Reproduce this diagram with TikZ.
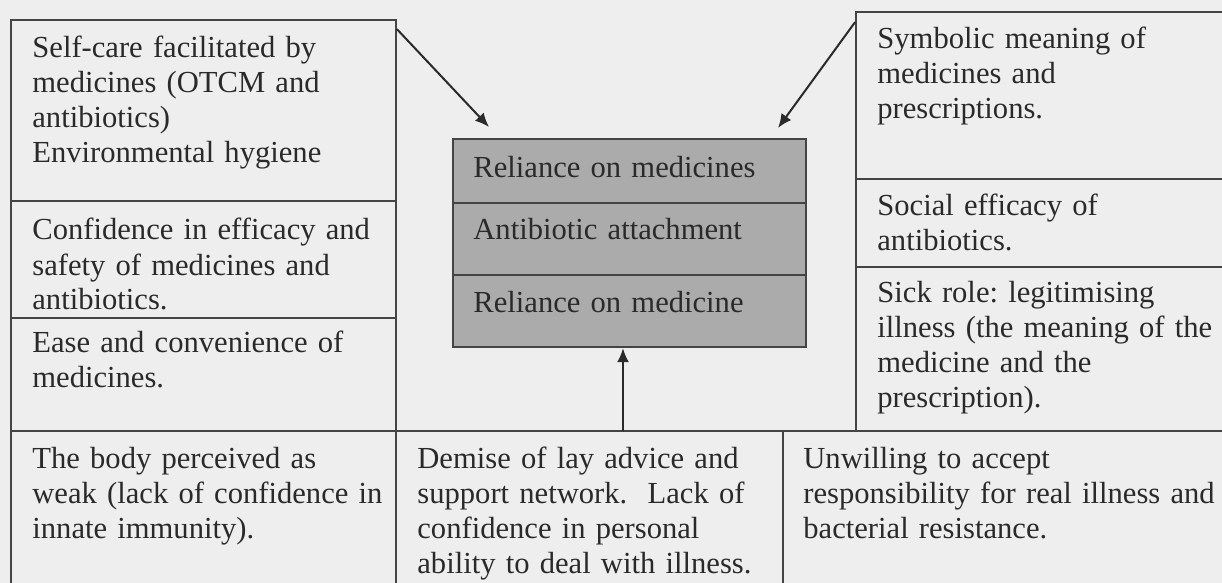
\documentclass[tikz,border=0pt]{standalone}
\usepackage{fontspec}
\setmainfont{Liberation Serif}
\usetikzlibrary{arrows.meta,fit}
\definecolor{bg}{HTML}{EEEEEE}
\definecolor{ink}{HTML}{2A2A2A}
\definecolor{edge}{HTML}{444444}
\definecolor{core}{HTML}{ABABAB}
\begin{document}
\frenchspacing
\begin{tikzpicture}[x=0.5pt,y=-0.5pt,
  box/.style={draw=edge, line width=0.9pt, inner sep=0pt},
  corebox/.style={draw=edge, line width=1.2pt, fill=core, inner sep=0pt},
  txt/.style={anchor=base west, text=ink, inner sep=0pt, text width=250pt, align=left,
              font=\fontsize{15.3}{17.5}\selectfont},
  arr/.style={draw=ink, line width=1pt, -{Latex[length=7pt,width=6pt]}}
]
\fill[bg] (0,0) rectangle (1222,583);
\clip (0,0) rectangle (1222,583);
% left column
\node[box, fit={(11,20) (396,201)}] (tl1) {};
\node[box, fit={(11,201) (396,318)}] (tl2) {};
\node[box, fit={(11,318) (396,431)}] (tl3) {};
% bottom row
\node[box, fit={(11,431) (396,600)}] (bl) {};
\node[box, fit={(396,431) (783,600)}] (bm) {};
\node[box, fit={(783,431) (1240,600)}] (br) {};
% right column
\node[box, fit={(856,12) (1240,179)}] (tr1) {};
\node[box, fit={(856,179) (1240,267)}] (tr2) {};
\node[box, fit={(856,267) (1240,431)}] (tr3) {};
% core
\node[corebox, fit={(453,139) (806,203)}] (c1) {};
\node[corebox, fit={(453,203) (806,275)}] (c2) {};
\node[corebox, fit={(453,275) (806,347)}] (c3) {};
% texts
\node[txt] (t1) at (32,58) {Self-care facilitated by\\medicines (OTCM and\\antibiotics)\\Environmental hygiene};
\node[txt] (t2) at (32,240) {Confidence in efficacy and\\safety of medicines and\\antibiotics.};
\node[txt] (t3) at (32,352) {Ease and convenience of\\medicines.};
\node[txt] (t4) at (32,468) {The body perceived as\\weak (lack of confidence in\\innate immunity).};
\node[txt] (t5) at (417,468) {Demise of lay advice and\\support network.\ \ Lack of\\confidence in personal\\ability to deal with illness.};
\node[txt] (t6) at (803,468) {Unwilling to accept\\responsibility for real illness and\\bacterial resistance.};
\node[txt] (t7) at (877,49) {Symbolic meaning of\\medicines and\\prescriptions.};
\node[txt] (t8) at (877,215) {Social efficacy of\\antibiotics.};
\node[txt] (t9) at (877,302) {Sick role: legitimising\\illness (the meaning of the\\medicine and the\\prescription).};
\node[txt] (k1) at (473,177) {Reliance on medicines};
\node[txt] (k2) at (473,240) {Antibiotic attachment};
\node[txt] (k3) at (473,312) {Reliance on medicine};
% arrows
\coordinate (e1) at (489,127);
\coordinate (e2) at (778,128);
\coordinate (s3) at (623,431);
\draw[arr] ([yshift=-5pt]tl1.north east) -- (e1);
\draw[arr] ([yshift=-5.5pt]tr1.north west) -- (e2);
\draw[arr] (s3) -- (s3 |- c3.south);
\end{tikzpicture}
\end{document}
